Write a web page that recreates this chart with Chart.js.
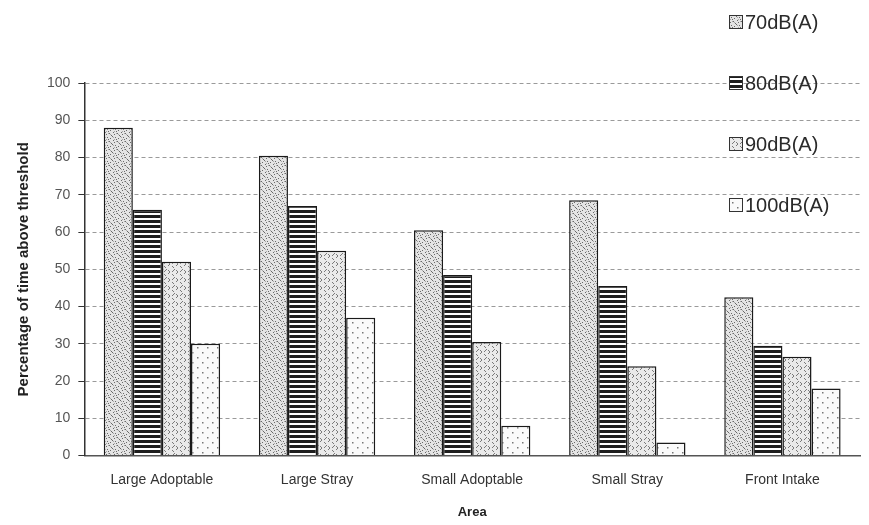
<!DOCTYPE html>
<html>
<head>
<meta charset="utf-8">
<script src="https://cdn.jsdelivr.net/npm/chart.js@4"></script>
<style>
  html, body { margin: 0; padding: 0; background: #fff; }
  #wrap { width: 869px; height: 525px; position: relative; }
</style>
</head>
<body>
<div id="wrap"><canvas id="chart" width="869" height="525"></canvas></div>
<script>
// chart values
var areas = ['Large Adoptable', 'Large Stray', 'Small Adoptable', 'Small Stray', 'Front Intake'];
var seriesNames = ['70dB(A)', '80dB(A)', '90dB(A)', '100dB(A)'];
var db70 = [88, 80.5, 60.5, 68.5, 42.5];
var db80 = [66, 67, 48.5, 45.5, 29.5];
var db90 = [52, 55, 30.5, 24, 26.5];
var db100 = [30, 37, 8, 3.5, 18];
var yTicks = [0, 10, 20, 30, 40, 50, 60, 70, 80, 90, 100];

// fill patterns (black & white print look)
function makePattern(w, h, draw) {
    var c = document.createElement('canvas');
    c.width = w; c.height = h;
    var g = c.getContext('2d');
    draw(g);
    return g.createPattern(c, 'repeat');
}
var ctx = document.getElementById('chart').getContext('2d');

var pat70 = makePattern(8, 8, function (g) {
    g.fillStyle = '#e4e4e4'; g.fillRect(0, 0, 8, 8);
    g.fillStyle = '#6a6a6a';
    [[0, 0], [3, 1], [6, 2], [1, 4], [5, 5], [2, 6], [7, 7], [4, 3]].forEach(function (p) { g.fillRect(p[0], p[1], 1, 1); });
    g.fillStyle = '#a8a8a8';
    [[1, 1], [4, 5], [6, 6], [2, 3]].forEach(function (p) { g.fillRect(p[0], p[1], 1, 1); });
});
var pat80 = makePattern(6, 5, function (g) {
    g.fillStyle = '#ffffff'; g.fillRect(0, 0, 6, 5);
    g.fillStyle = '#1e1e1e'; g.fillRect(0, 0, 6, 3);
});
var pat90 = makePattern(8, 8, function (g) {
    g.fillStyle = '#eaeaea'; g.fillRect(0, 0, 8, 8);
    g.strokeStyle = '#7a7a7a'; g.lineWidth = 1;
    g.beginPath();
    g.moveTo(0, 2); g.lineTo(2, 0);
    g.moveTo(4, 2); g.lineTo(6, 4);
    g.moveTo(0, 6); g.lineTo(2, 8);
    g.moveTo(4, 8); g.lineTo(7, 5);
    g.stroke();
});
var pat100 = makePattern(10, 10, function (g) {
    g.fillStyle = '#fafafa'; g.fillRect(0, 0, 10, 10);
    g.fillStyle = '#777777';
    g.fillRect(2, 2, 1.5, 1.5);
    g.fillRect(7, 7, 1.5, 1.5);
});
var patterns = [pat70, pat80, pat90, pat100];
var seriesData = [db70, db80, db90, db100];

// legend in the top right corner, one item per row
var sideLegend = {
    id: 'sideLegend',
    afterDraw: function (chart) {
        var c = chart.ctx;
        var x = 729, y0 = 22, step = 61;
        c.save();
        c.font = '20px "Liberation Sans", Arial, sans-serif';
        c.textBaseline = 'middle';
        seriesNames.forEach(function (name, i) {
            var y = y0 + i * step;
            c.fillStyle = patterns[i];
            c.fillRect(x, y - 7, 14, 14);
            c.strokeStyle = '#333';
            c.lineWidth = 1;
            c.strokeRect(x + 0.5, y - 6.5, 13, 13);
            c.fillStyle = '#2a2a2a';
            c.fillText(name, x + 16, y + 1);
        });
        c.restore();
    }
};

var chartInstance = new Chart(ctx, {
    type: 'bar',
    data: {
        labels: areas,
        datasets: seriesNames.map(function (name, i) {
            return {
                label: name,
                data: seriesData[i],
                backgroundColor: patterns[i],
                borderColor: '#1a1a1a',
                borderWidth: 1.5,
                categoryPercentage: 0.75,
                barPercentage: 1.0
            };
        })
    },
    options: {
        responsive: false,
        animation: false,
        layout: { padding: { top: 83, right: 9, left: 15, bottom: 5 } },
        plugins: {
            legend: { display: false },
            tooltip: { enabled: false }
        },
        scales: {
            x: {
                grid: { display: false, drawTicks: false },
                border: { color: '#555', width: 1.5 },
                ticks: {
                    color: '#333',
                    padding: 16,
                    font: { family: '"Liberation Sans", Arial, sans-serif', size: 14 }
                },
                title: {
                    display: true,
                    text: 'Area',
                    color: '#222',
                    font: { family: '"Liberation Sans", Arial, sans-serif', size: 13, weight: 'bold' },
                    padding: { top: 0, bottom: 0 }
                }
            },
            y: {
                min: 0,
                max: 100,
                afterBuildTicks: function (axis) {
                    axis.ticks = yTicks.map(function (v) { return { value: v }; });
                },
                grid: {
                    color: '#9a9a9a',
                    lineWidth: 1,
                    tickLength: 6,
                    tickColor: '#333',
                    tickBorderDash: []
                },
                // dashed gridlines, solid axis line
                border: { color: '#333', width: 1.5, dash: [4, 3] },
                ticks: {
                    color: '#555',
                    padding: 8,
                    font: { family: '"Liberation Sans", Arial, sans-serif', size: 14 }
                },
                title: {
                    display: true,
                    text: 'Percentage of time above threshold',
                    color: '#222',
                    font: { family: '"Liberation Sans", Arial, sans-serif', size: 15, weight: 'bold' },
                    padding: { top: 0, bottom: 6 }
                }
            }
        }
    },
    plugins: [sideLegend]
});
</script>
</body>
</html>
